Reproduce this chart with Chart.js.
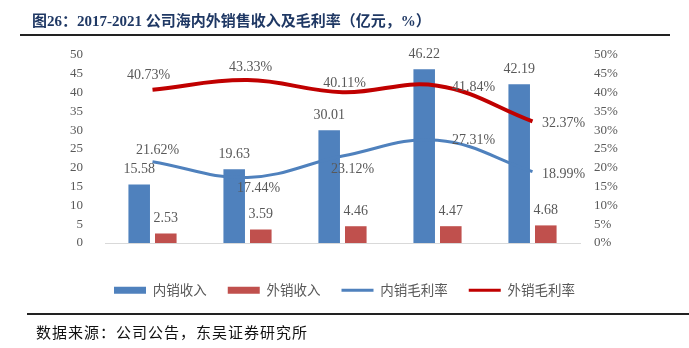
<!DOCTYPE html>
<html>
<head>
<meta charset="utf-8">
<script src="https://cdn.jsdelivr.net/npm/chart.js@4/dist/chart.umd.min.js"></script>
<style>
  body { margin: 0; background: #fff; }
  #wrap { position: relative; width: 689px; height: 348px; overflow: hidden; }
  #title { position: absolute; left: 32px; top: 9px; font: bold 15px "Liberation Serif", "Noto Sans CJK SC"; color: #1f3864; white-space: nowrap; }
  #ruleTop { position: absolute; left: 20px; top: 34px; width: 650px; height: 2px; background: #222; }
  #ruleBottom { position: absolute; left: 27px; top: 313px; width: 662px; height: 1.5px; background: #222; }
  #source { position: absolute; left: 36px; top: 321px; font: 15px "Noto Sans CJK SC", serif; letter-spacing: 1px; color: #111; white-space: nowrap; }
  canvas { position: absolute; left: 0; top: 0; }
</style>
</head>
<body>
<div id="wrap">
  <canvas id="myChart" width="689" height="348"></canvas>
  <div id="title">图26：2017-2021 公司海内外销售收入及毛利率（亿元，%）</div>
  <div id="ruleTop"></div>
  <div id="ruleBottom"></div>
  <div id="source">数据来源：公司公告，东吴证券研究所</div>
</div>
<script>
const years = ['2017', '2018', '2019', '2020', '2021'];
const domesticRevenue = [15.58, 19.63, 30.01, 46.22, 42.19];
const overseasRevenue = [2.53, 3.59, 4.46, 4.47, 4.68];
const domesticMargin = [21.62, 17.44, 23.12, 27.31, 18.99];
const overseasMargin = [40.73, 43.33, 40.11, 41.84, 32.37];

// label offsets from each point (dx, dy)
const domesticMarginOffsets = [[5, -11], [11, 11], [10, 13], [36, 0], [31, 3]];
const overseasMarginOffsets = [[-4, -15], [3, -13], [2, -9], [36, 2], [31, 2]];

const serif = '"Liberation Serif", "Times New Roman", serif';
const grey = '#595959';

const valueLabels = {
  id: 'valueLabels',
  afterDatasetsDraw(chart) {
    const ctx = chart.ctx;
    ctx.save();
    ctx.font = '14px ' + serif;
    ctx.fillStyle = grey;
    ctx.textAlign = 'center';
    ctx.textBaseline = 'middle';
    chart.data.datasets.forEach((ds, i) => {
      const meta = chart.getDatasetMeta(i);
      meta.data.forEach((el, j) => {
        let x = el.x, y = el.y, text;
        if (ds.type === 'bar') {
          text = ds.data[j].toFixed(2);
          y -= 15;
        } else {
          const off = ds.offsets[j];
          text = ds.data[j].toFixed(2) + '%';
          x += off[0];
          y += off[1];
        }
        ctx.fillText(text, x, y);
      });
    });
    ctx.restore();
  }
};

document.addEventListener('DOMContentLoaded', () => {
  const ctx = document.getElementById('myChart').getContext('2d');
  new Chart(ctx, {
    data: {
      labels: years,
      datasets: [
        {
          type: 'line', label: '内销毛利率', data: domesticMargin, offsets: domesticMarginOffsets,
          yAxisID: 'y1', borderColor: '#4f81bd', borderWidth: 3, tension: 0.4,
          pointRadius: 0, order: 0
        },
        {
          type: 'line', label: '外销毛利率', data: overseasMargin, offsets: overseasMarginOffsets,
          yAxisID: 'y1', borderColor: '#c00000', borderWidth: 4, tension: 0.4,
          pointRadius: 0, order: 0
        },
        {
          type: 'bar', label: '内销收入', data: domesticRevenue, yAxisID: 'y',
          backgroundColor: '#4f81bd', categoryPercentage: 0.56, barPercentage: 0.81, order: 1
        },
        {
          type: 'bar', label: '外销收入', data: overseasRevenue, yAxisID: 'y',
          backgroundColor: '#c0504d', categoryPercentage: 0.56, barPercentage: 0.81, order: 1
        }
      ]
    },
    options: {
      responsive: false,
      animation: false,
      layout: { padding: { top: 55, left: 0, right: 0, bottom: 41 } },
      plugins: {
        tooltip: { enabled: false },
        legend: {
          position: 'bottom',
          labels: {
            usePointStyle: true,
            pointStyleWidth: 32,
            boxHeight: 7,
            padding: 21,
            color: grey,
            font: { size: 13.5, family: '"Noto Sans CJK SC", sans-serif' },
            generateLabels(chart) {
              const ds = chart.data.datasets;
              const pick = [2, 3, 0, 1];
              return pick.map(i => ({
                text: ds[i].label,
                datasetIndex: i,
                fillStyle: ds[i].type === 'bar' ? ds[i].backgroundColor : ds[i].borderColor,
                strokeStyle: ds[i].type === 'bar' ? ds[i].backgroundColor : ds[i].borderColor,
                lineWidth: ds[i].type === 'bar' ? 0 : 3,
                pointStyle: ds[i].type === 'bar' ? 'rect' : 'line',
                fontColor: grey,
                hidden: false
              }));
            }
          }
        }
      },
      scales: {
        x: {
          grid: { display: false },
          border: { color: '#d9d9d9', width: 1 },
          ticks: { color: grey, font: { size: 13, family: serif }, padding: 10 },
          afterFit(s) { s.height = 19.5; }
        },
        y: {
          position: 'left', min: 0, max: 50,
          grid: { display: false }, border: { display: false },
          ticks: { stepSize: 5, color: grey, font: { size: 13, family: serif }, padding: 14 },
          afterFit(s) { s.width = 105; }
        },
        y1: {
          position: 'right', min: 0, max: 50,
          grid: { display: false }, border: { display: false },
          ticks: { stepSize: 5, color: grey, font: { size: 13, family: serif }, padding: 6,
                   callback: v => v + '%' },
          afterFit(s) { s.width = 109; }
        }
      }
    },
    plugins: [valueLabels]
  });
});
</script>
</body>
</html>
